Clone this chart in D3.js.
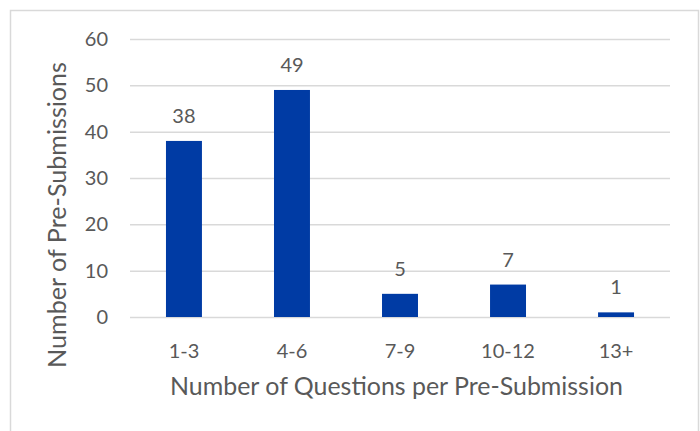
<!DOCTYPE html>
<html>
<head>
<meta charset="utf-8">
<script src="https://cdn.jsdelivr.net/npm/d3@7"></script>
<style>
  html, body { margin: 0; padding: 0; background: #fff; }
  svg { display: block; font-family: Lato, "Open Sans", sans-serif; }
</style>
</head>
<body>
<svg id="chart" width="700" height="431"></svg>
<script>
// Questions per pre-submission, grouped
const categories = ["1-3", "4-6", "7-9", "10-12", "13+"];
const counts = [38, 49, 5, 7, 1];
const yTicks = [0, 10, 20, 30, 40, 50, 60];

const xTitle = "Number of Questions per Pre-Submission";
const yTitle = "Number of Pre-Submissions";

const W = 700, H = 431;
const plot = { left: 130, right: 670, top: 39, bottom: 317 };
const textColor = "#595959";
const gridColor = "#d9d9d9";
const barColor = "#003ba4";

const svg = d3.select("#chart");

// outer chart frame
svg.append("rect")
  .attr("x", 10.5).attr("y", 10.5)
  .attr("width", 688).attr("height", 600)
  .attr("fill", "#fff")
  .attr("stroke", gridColor).attr("stroke-width", 1.5);

const x = d3.scaleBand()
  .domain(categories)
  .range([plot.left, plot.right])
  .paddingInner(0.667)
  .paddingOuter(0.333);

const y = d3.scaleLinear()
  .domain([0, 60])
  .range([plot.bottom, plot.top]);

// horizontal gridlines + y labels
const yAxis = d3.axisLeft(y)
  .tickValues(yTicks)
  .tickSize(-(plot.right - plot.left))
  .tickPadding(22);

const gy = svg.append("g")
  .attr("transform", `translate(${plot.left},0)`)
  .call(yAxis);
gy.select(".domain").remove();
gy.selectAll(".tick line").attr("stroke", gridColor).attr("stroke-width", 1.5);
gy.selectAll(".tick text")
  .attr("fill", textColor)
  .style("font-size", "20px")
  .style("font-family", "Lato, sans-serif");

// x category labels
const xAxis = d3.axisBottom(x).tickSize(0).tickPadding(27);
const gx = svg.append("g")
  .attr("transform", `translate(0,${plot.bottom})`)
  .call(xAxis);
gx.select(".domain").remove();
gx.selectAll(".tick text")
  .attr("fill", textColor)
  .style("font-size", "20px")
  .style("font-family", "Lato, sans-serif");

// bars
svg.append("g").selectAll("rect")
  .data(counts)
  .join("rect")
  .attr("x", (d, i) => x(categories[i]))
  .attr("y", d => y(d))
  .attr("width", x.bandwidth())
  .attr("height", d => y(0) - y(d))
  .attr("fill", barColor);

// value labels
svg.append("g").selectAll("text")
  .data(counts)
  .join("text")
  .attr("x", (d, i) => x(categories[i]) + x.bandwidth() / 2)
  .attr("y", d => y(d) - 18)
  .attr("text-anchor", "middle")
  .attr("fill", textColor)
  .style("font-size", "20px")
  .text(d => d);

// axis titles, sized to their run length
function fitText(sel, target) {
  let fs = 20;
  sel.style("font-size", fs + "px");
  const len = sel.node().getComputedTextLength();
  fs = fs * target / len;
  sel.style("font-size", fs.toFixed(2) + "px");
}

const xt = svg.append("text")
  .attr("x", 396.5).attr("y", 395)
  .attr("text-anchor", "middle")
  .attr("fill", textColor)
  .text(xTitle);
fitText(xt, 453);

const yt = svg.append("text")
  .attr("transform", "translate(66,215) rotate(-90)")
  .attr("text-anchor", "middle")
  .attr("fill", textColor)
  .text(yTitle);
fitText(yt, 306);
</script>
</body>
</html>
